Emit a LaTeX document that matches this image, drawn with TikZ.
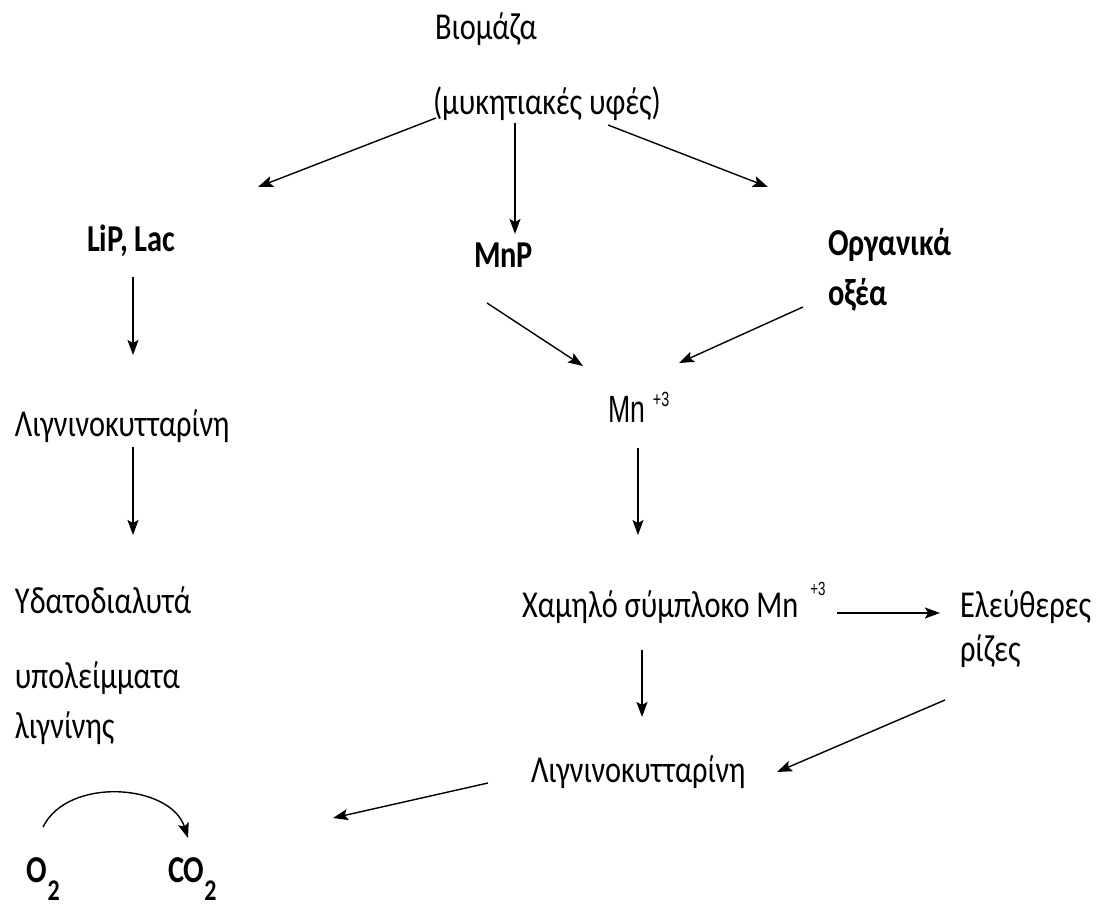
\documentclass[tikz,border=0pt]{standalone}
\usepackage{fontspec}
\setmainfont[FakeStretch=0.8]{Carlito}
\newfontfamily\narrowsans[FakeStretch=0.7]{Liberation Sans}
\usetikzlibrary{arrows.meta}

\newcommand{\lowtwo}{\raisebox{-18pt}{\fontsize{30}{30}\selectfont 2}}
\newcommand{\ionplus}[2]{\raisebox{#1}{\narrowsans\fontsize{#2}{#2}\selectfont +3}}

\begin{document}
\begin{tikzpicture}[
  x=1pt, y=-1pt,
  font=\fontsize{38}{50}\selectfont,
  txt/.style={inner sep=0pt, outer sep=0pt, anchor=base west, align=left},
  enzyme/.style={txt, font=\fontsize{38}{50}\selectfont\bfseries},
  flow/.style={-{Stealth[length=15pt,width=11pt,inset=3pt]}, line width=1.4pt, draw=black}
]
\useasboundingbox (0,0) rectangle (1096,909);

% source
\node[txt] (biomass) at (435,40) {Βιομάζα};
\node[txt] (fungi) at (433,115) {(μυκητιακές υφές)};

% enzymes and acids (multi-line nodes sit on their last line)
\node[enzyme] (lip) at (87,252) {LiP, Lac};
\node[enzyme] (mnp) at (474,268) {MnP};
\node[enzyme] (acids) at (828,306) {Οργανικά\\οξέα};

% left branch
\node[txt] (lignin1) at (15,437) {Λιγνινοκυτταρίνη};
\node[txt] (residues) at (15,738) {Υδατοδιαλυτά\\[25pt]υπολείμματα\\λιγνίνης};
\node[enzyme] (o2) at (27,882) {O\lowtwo};
\node[enzyme] (co2) at (168,882) {CO\lowtwo};

% right branch
\node[txt] (mn) at (608,423) {\narrowsans Mn\hspace{8pt}\ionplus{16pt}{20.5}};
\node[txt] (complex) at (522,617) {Χαμηλό σύμπλοκο Mn\hspace{12pt}\ionplus{22pt}{19}};
\node[txt] (radicals) at (960,661) {Ελεύθερες\\[-6pt]ρίζες};
\node[txt] (lignin2) at (531,782) {Λιγνινοκυτταρίνη};

\draw[flow] ([shift={(3,3)}]fungi.base west) -- ([shift={(171,-65)}]lip.base west);
\draw[flow] ([shift={(82,8)}]fungi.base west) -- ([shift={(41,-34)}]mnp.base west);
\draw[flow] ([shift={(175,10)}]fungi.base west) -- ([shift={(-60,-119)}]acids.base west);

\draw[flow] ([shift={(46,25)}]lip.base west) -- ([shift={(118,-82)}]lignin1.base west);
\draw[flow] ([shift={(118,10)}]lignin1.base west) -- ([shift={(118,-203)}]residues.base west);
\draw[flow] ([shift={(16,-55)}]o2.base west) to[bend left=68] ([shift={(20,-44)}]co2.base west);

\draw[flow] ([shift={(13,35)}]mnp.base west) -- ([shift={(-25,-57)}]mn.base west);
\draw[flow] ([shift={(-25,1)}]acids.base west) -- ([shift={(71,-60)}]mn.base west);
\draw[flow] ([shift={(30,25)}]mn.base west) -- ([shift={(116,-82)}]complex.base west);
\draw[flow] ([shift={(315,-4)}]complex.base west) -- ([shift={(-20,-48)}]radicals.base west);
\draw[flow] ([shift={(120,33)}]complex.base west) -- ([shift={(111,-65)}]lignin2.base west);
\draw[flow] ([shift={(-15,39)}]radicals.base west) -- ([shift={(246,-10)}]lignin2.base west);
\draw[flow] ([shift={(-43,1)}]lignin2.base west) -- ([shift={(165,-64)}]co2.base west);
\end{tikzpicture}
\end{document}
